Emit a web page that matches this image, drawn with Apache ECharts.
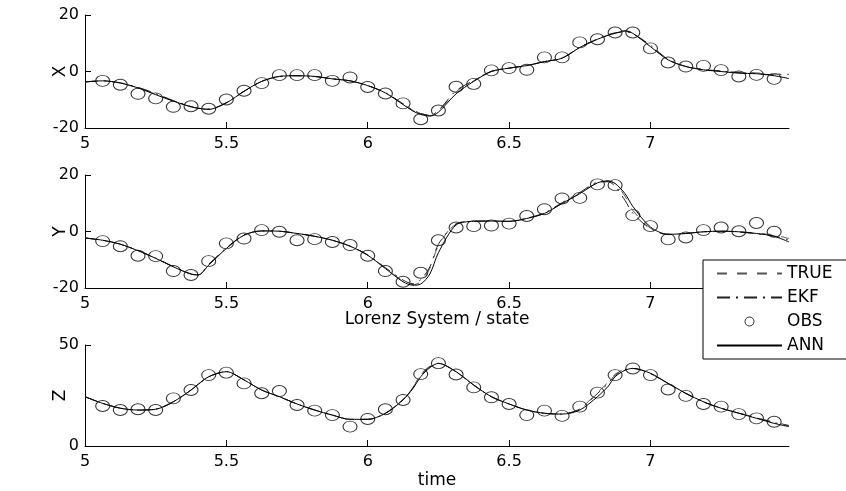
<!DOCTYPE html>
<html>
<head>
<meta charset="utf-8">
<script src="https://cdn.jsdelivr.net/npm/echarts@6/dist/echarts.min.js"></script>
<style>html,body{margin:0;padding:0;background:#fff}#c{width:846px;height:491px}</style>
</head>
<body>
<div id="c"></div>
<script>
// time grid of the traced curves
const tCurve = [5, 5.0625, 5.125, 5.1875, 5.25, 5.3125, 5.375, 5.40, 5.4375, 5.5, 5.5625, 5.625, 5.6875, 5.75, 5.8125, 5.875, 5.9375, 6.0, 6.0625, 6.125, 6.16, 6.1875, 6.22, 6.25, 6.3125, 6.375, 6.4375, 6.5, 6.5625, 6.625, 6.6875, 6.75, 6.8125, 6.85, 6.875, 6.91, 6.9375, 7.0, 7.0625, 7.125, 7.1875, 7.25, 7.3125, 7.375, 7.4375, 7.49];

const xTrue = [-3.7,-3.3,-4.1,-5.8,-8.0,-10.4,-12.5,-13.0,-13.4,-11.1, -7.0,-3.5,-1.75,-1.5,-1.75,-2.6,-3.3,-5.0,-7.6,-11.5, -13.8,-15.0,-15.6,-14.0,-7.2,-3.3,0.0,1.2,2.1,3.5, 4.7,8.5,11.4,12.9,13.7,14.5,13.6,9.0,4.2,1.8, 0.7,0.2,-0.3,-0.5,-1.0,-0.5];
const xEKF  = [-3.7,-3.3,-4.0,-5.6,-7.8,-10.3,-12.4,-13.0,-13.3,-11.0, -7.0,-3.5,-1.75,-1.5,-1.75,-2.6,-3.3,-5.0,-7.5,-11.4, -13.6,-14.9,-15.5,-13.8,-6.8,-3.2,0.1,1.2,2.1,3.5, 4.8,8.6,11.5,13.0,13.7,14.0,13.4,9.3,4.3,1.8, 0.7,0.1,-0.4,-0.7,-1.2,-1.0];
const xANN  = [-3.7,-3.3,-4.1,-5.8,-8.2,-10.5,-12.5,-13.0,-13.4,-11.1, -7.0,-3.5,-1.75,-1.5,-1.75,-2.6,-3.3,-5.0,-7.6,-11.7, -14.0,-15.2,-15.8,-14.4,-7.9,-3.5,0.0,1.2,2.1,3.5, 4.7,8.5,11.4,12.8,13.5,14.3,13.5,8.8,4.1,1.75, 0.6,0.0,-0.6,-0.8,-1.5,-2.5];

const yTrue = [-2.3,-3.1,-4.5,-6.8,-9.5,-12.5,-15.1,-15.4,-11.9,-6.0, -1.3,0.2,0.1,-0.7,-1.7,-3.1,-5.2,-8.4,-13.0,-17.5, -18.8,-17.8,-13.0,-5.0,2.8,3.6,3.7,3.6,4.6,6.5, 10.0,13.5,17.3,17.9,16.8,12.5,7.5,1.2,-1.0,-0.7, -0.1,0.1,-0.1,-0.6,-1.2,-2.5];
const yEKF  = [-2.3,-3.1,-4.5,-6.7,-9.4,-12.4,-15.0,-15.3,-11.6,-5.8, -1.2,0.2,0.1,-0.7,-1.7,-3.1,-5.2,-8.3,-12.8,-17.2, -18.5,-17.0,-12.5,-4.5,2.6,3.6,3.7,3.6,4.7,6.6, 10.2,13.8,17.4,17.6,16.0,11.0,6.5,1.0,-1.1,-0.7, -0.1,0.1,-0.2,-0.8,-1.6,-3.0];
const yANN  = [-2.3,-3.1,-4.5,-6.8,-9.5,-12.5,-15.1,-15.4,-11.9,-6.0, -1.3,0.2,0.1,-0.7,-1.7,-3.1,-5.2,-8.4,-13.1,-17.8, -19.0,-18.6,-15.0,-7.5,2.3,3.6,3.7,3.6,4.6,6.4, 9.9,13.4,17.2,17.9,17.0,13.4,8.9,1.6,-1.0,-0.7, -0.1,0.1,-0.1,-0.7,-1.7,-3.7];

const zTrue = [24.4,21.1,18.7,17.8,18.2,21.9,27.7,30.5,34.3,36.8, 32.7,27.7,24.4,20.8,17.8,15.3,13.2,13.2,16.2,23.2, 29.0,35.5,39.5,40.9,36.6,30.0,24.4,20.8,17.8,16.2, 15.8,18.5,26.5,31.5,35.5,38.0,38.4,35.8,30.8,26.0, 21.8,18.7,16.4,14.0,11.8,10.2];
const zEKF  = [24.4,21.1,18.7,17.8,18.2,21.9,27.7,30.5,34.3,36.8, 32.7,27.7,24.4,20.8,17.8,15.3,13.2,13.2,16.2,23.0, 28.8,35.0,39.2,40.9,36.7,30.1,24.4,20.8,17.8,16.2, 15.8,18.3,26.0,31.0,35.0,37.8,38.4,35.9,30.9,26.0, 21.8,18.7,16.3,13.9,11.6,10.0];
const zANN  = [24.4,21.1,18.7,17.8,18.2,21.9,27.7,30.5,34.3,36.8, 32.7,27.7,24.4,20.8,17.8,15.3,13.2,13.2,16.2,22.8, 28.5,34.3,38.8,40.9,36.8,30.2,24.4,20.8,17.8,16.2, 15.8,17.8,24.4,29.5,34.3,37.5,38.4,36.0,31.0,26.1, 21.9,18.7,16.2,13.7,11.2,9.6];

// observation times and values
const tObs = [5.0625,5.125,5.1875,5.25,5.3125,5.375,5.4375,5.5,5.5625,5.625,5.6875,5.75,5.8125,5.875,5.9375,6.0,6.0625,6.125,6.1875,6.25,6.3125,6.375,6.4375,6.5,6.5625,6.625,6.6875,6.75,6.8125,6.875,6.9375,7.0,7.0625,7.125,7.1875,7.25,7.3125,7.375,7.4375];
const xObs = [-3.3,-4.7,-7.9,-9.5,-12.5,-12.3,-13.2,-9.9,-6.8,-4.1,-1.3,-1.3,-1.3,-3.3,-2.1,-5.5,-7.8,-11.3,-16.9,-13.8,-5.4,-4.4,0.4,1.2,0.6,5.0,5.0,10.3,11.4,13.8,13.8,8.2,3.2,1.75,2.0,0.5,-1.75,-1.2,-2.6];
const yObs = [-3.4,-5.2,-8.6,-8.7,-14.0,-15.4,-10.5,-4.2,-2.5,0.5,-0.1,-3.1,-2.7,-3.7,-4.8,-8.6,-14.0,-17.8,-14.6,-3.1,1.4,1.9,2.1,2.8,5.5,7.9,11.7,11.9,16.7,16.4,5.8,1.9,-2.8,-2.1,0.5,1.4,0.1,3.0,-0.1];
const zObs = [19.8,17.8,18.2,17.8,23.6,27.7,35.1,36.3,31.0,26.1,27.2,20.3,17.5,15.3,9.6,13.4,18.2,22.8,35.6,41.0,35.4,29.0,24.1,20.8,15.3,17.5,14.9,19.5,26.4,35.1,38.4,35.1,28.0,24.8,20.8,19.5,15.8,13.7,12.0];

const xTicks = [5, 5.5, 6, 6.5, 7];
const yLimits = [[-20, 20, 20], [-20, 20, 20], [0, 50, 50]];
const yNames = ['X', 'Y', 'Z'];
const xNames = ['', 'Lorenz System / state', 'time'];
const legendNames = ['TRUE', 'EKF', 'OBS', 'ANN'];

const FONT = 'DejaVu Sans';
const pair = (t, v) => t.map((x, i) => [x, v[i]]);

const grids = [
  {left: 85, right: 57, top: 15, height: 113},
  {left: 85, right: 57, top: 175, height: 113},
  {left: 85, right: 57, top: 345, height: 101}
];

const xAxes = grids.map((g, i) => ({
  type: 'value', gridIndex: i, min: 5, max: 7.49,
  name: xNames[i], nameLocation: 'middle', nameGap: i === 2 ? 26 : 23, nameMoveOverlap: false,
  nameTextStyle: {fontFamily: FONT, fontSize: 17, color: '#000'},
  axisLine: {onZero: false, lineStyle: {color: '#000', width: 1}},
  axisTick: {inside: true, length: 6, customValues: xTicks, lineStyle: {color: '#000'}},
  axisLabel: {customValues: xTicks, fontFamily: FONT, fontSize: 16, color: '#000', margin: 8},
  splitLine: {show: false}
}));

const yAxes = grids.map((g, i) => ({
  type: 'value', gridIndex: i, min: yLimits[i][0], max: yLimits[i][1], interval: yLimits[i][2],
  name: yNames[i], nameLocation: 'middle', nameGap: 16, nameMoveOverlap: false,
  nameTextStyle: {fontFamily: FONT, fontSize: 17, color: '#000'},
  axisLine: {lineStyle: {color: '#000', width: 1}},
  axisTick: {inside: true, length: 6, lineStyle: {color: '#000'}},
  axisLabel: {fontFamily: FONT, fontSize: 16, color: '#000', margin: 6},
  splitLine: {show: false}
}));

const panels = [
  {tru: xTrue, ekf: xEKF, ann: xANN, obs: xObs},
  {tru: yTrue, ekf: yEKF, ann: yANN, obs: yObs},
  {tru: zTrue, ekf: zEKF, ann: zANN, obs: zObs}
];

const series = [];
panels.forEach((p, i) => {
  series.push({name: 'TRUE', type: 'line', xAxisIndex: i, yAxisIndex: i, symbol: 'none', smooth: 0.3,
    data: pair(tCurve, p.tru), lineStyle: {color: '#555', width: 1, type: [10, 10]}, itemStyle: {color: '#555'}});
  series.push({name: 'EKF', type: 'line', xAxisIndex: i, yAxisIndex: i, symbol: 'none', smooth: 0.3,
    data: pair(tCurve, p.ekf), lineStyle: {color: '#222', width: 1, type: [13, 6, 2, 6]}, itemStyle: {color: '#222'}});
  series.push({name: 'OBS', type: 'scatter', xAxisIndex: i, yAxisIndex: i, symbol: 'circle', symbolSize: [14, 11],
    data: pair(tObs, p.obs), itemStyle: {color: 'rgba(0,0,0,0)', borderColor: '#000', borderWidth: 1}});
  series.push({name: 'ANN', type: 'line', xAxisIndex: i, yAxisIndex: i, symbol: 'none', smooth: 0.3,
    data: pair(tCurve, p.ann), lineStyle: {color: '#000', width: 1}, itemStyle: {color: '#000'}});
});

const hidden = {color: 'rgba(0,0,0,0)', borderColor: 'rgba(0,0,0,0)', borderWidth: 0};
const chart = echarts.init(document.getElementById('c'), null, {renderer: 'canvas'});
chart.setOption({
  animation: false,
  backgroundColor: '#fff',
  grid: grids,
  xAxis: xAxes,
  yAxis: yAxes,
  legend: {
    data: legendNames.map(n => n === 'OBS'
      ? {name: n, itemStyle: {color: 'rgba(0,0,0,0)', borderColor: '#000', borderWidth: 1}}
      : {name: n, itemStyle: hidden}),
    orient: 'vertical', left: 703, top: 260,
    itemWidth: 65, itemHeight: 9, itemGap: 7,
    padding: [5, 20, 5, 13],
    backgroundColor: '#fff', borderColor: '#000', borderWidth: 1,
    selectedMode: false,
    textStyle: {fontFamily: FONT, fontSize: 17, color: '#000'}
  },
  series: series
});
</script>
</body>
</html>
